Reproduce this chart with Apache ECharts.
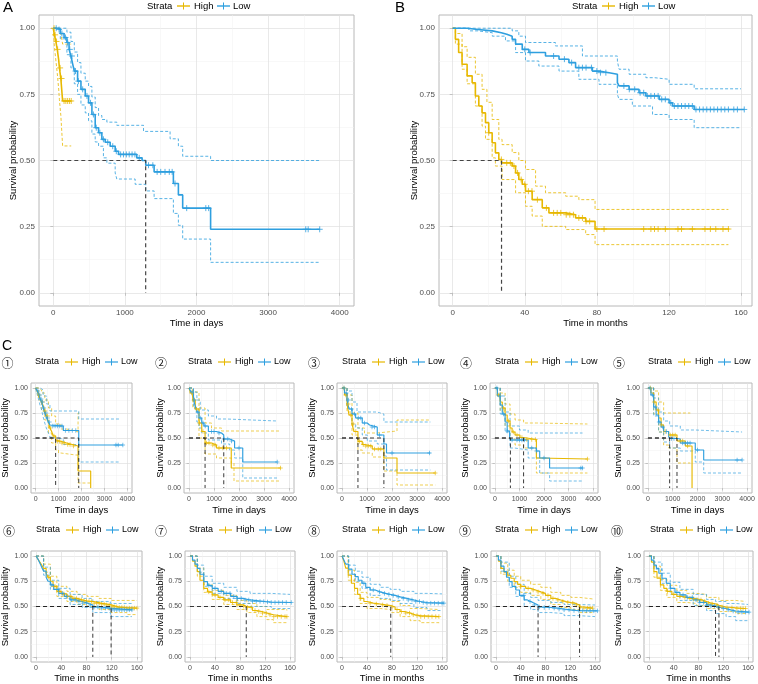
<!DOCTYPE html>
<html><head><meta charset="utf-8">
<script src="https://cdn.jsdelivr.net/npm/echarts@6/dist/echarts.min.js"></script>
<style>html,body{margin:0;padding:0;background:#fff}#c{width:758px;height:684px}</style>
</head><body><div id="c"></div>
<script>
// ---------- tick labels ----------
const daysTicks = [0, 1000, 2000, 3000, 4000];
const daysMinor = [500, 1500, 2500, 3500];
const monthTicks = [0, 40, 80, 120, 160];
const monthMinor = [20, 60, 100, 140];
const probTicks = [0, 0.25, 0.5, 0.75, 1];
const probMinor = [0.125, 0.375, 0.625, 0.875];
const strata = ['High', 'Low'];

// ---------- Panel A (days) ----------
const A_high = [[0,1],[15,0.975],[35,0.95],[55,0.92],[75,0.88],[85,0.85],[105,0.81],[130,0.725],[250,0.725]];
const A_highUp = [[0,1],[85,1],[105,0.98],[130,0.94],[250,0.94]];
const A_highLo = [[0,1],[15,0.93],[35,0.88],[55,0.83],[75,0.77],[85,0.73],[105,0.67],[130,0.555],[250,0.555]];
const A_highCens = [10,25,45,60,95,115,150,175,200,225,250];
const A_low = [[0,1],[60,0.995],[98,0.98],[150,0.965],[190,0.946],[220,0.92],[246,0.895],[270,0.865],[293,0.838],[339,0.80],[386,0.769],[446,0.744],[492,0.718],[539,0.674],[585,0.624],[632,0.605],[678,0.58],[725,0.569],[794,0.554],[864,0.535],[911,0.523],[1166,0.51],[1240,0.50],[1291,0.482],[1408,0.457],[1677,0.413],[1747,0.37],[1807,0.32],[2197,0.24],[3721,0.24]];
const A_lowUp = [[0,1],[150,1],[190,0.985],[246,0.95],[293,0.91],[339,0.87],[386,0.83],[446,0.80],[492,0.78],[539,0.74],[585,0.70],[632,0.67],[678,0.655],[748,0.645],[887,0.633],[1260,0.61],[1631,0.582],[1747,0.554],[1807,0.516],[2197,0.50],[3721,0.50]];
const A_lowLo = [[0,1],[98,0.96],[190,0.90],[246,0.85],[293,0.79],[339,0.75],[386,0.71],[446,0.68],[492,0.65],[539,0.60],[585,0.57],[632,0.554],[700,0.51],[748,0.49],[864,0.453],[887,0.43],[1143,0.41],[1291,0.385],[1408,0.356],[1677,0.30],[1747,0.255],[1807,0.203],[2197,0.115],[3721,0.115]];
const A_lowCens = [40,80,120,170,200,230,260,310,350,410,470,520,560,600,650,700,760,830,880,940,980,1020,1060,1100,1140,1200,1330,1390,1450,1500,1560,1620,1660,1700,1863,2130,2170,3526,3560,3721];
const A_medians = [1290];

// ---------- Panel B (months) ----------
const B_high = [[0,1],[1.5,0.958],[3.3,0.908],[5.2,0.864],[8,0.82],[10.8,0.794],[12.6,0.744],[14.5,0.706],[16.3,0.68],[18.2,0.643],[20,0.605],[21.9,0.567],[23.7,0.529],[25.6,0.504],[27.1,0.491],[33,0.479],[34.9,0.453],[36.7,0.428],[38.6,0.41],[40.4,0.384],[44.1,0.352],[49.7,0.321],[53.4,0.302],[62.7,0.295],[68.2,0.283],[73.8,0.27],[79,0.241],[153.5,0.241]];
const B_highUp = [[0,1],[1.5,0.98],[5.2,0.93],[8,0.89],[12.6,0.826],[16.3,0.769],[19,0.72],[21.9,0.655],[25.6,0.58],[27.4,0.56],[33,0.53],[36.7,0.5],[40.4,0.466],[46,0.403],[51.5,0.378],[62.7,0.365],[70,0.352],[79,0.315],[153,0.315]];
const B_highLo = [[0,1],[1.5,0.94],[5.2,0.845],[8,0.79],[12.6,0.706],[16.3,0.63],[18.2,0.58],[21.9,0.51],[23.7,0.479],[27.4,0.428],[34.9,0.378],[40.4,0.327],[44.1,0.29],[49.7,0.251],[62.7,0.239],[73.8,0.22],[79,0.182],[153,0.182]];
const B_highCens = [20,27,30,32,34,36,38,40,42,44,47,52,56,58,60,63,65,67,70,72,74,76,80,84,106,110,112,114,118,125,127,133,140,143,146,150,153];
const B_low = [[0,1],[8,0.995],[14,0.99],[22,0.983],[27,0.977],[30,0.97],[33,0.958],[34.9,0.94],[38.6,0.92],[42.3,0.908],[51.5,0.895],[59,0.883],[64.5,0.87],[68.2,0.851],[77.5,0.838],[81.2,0.832],[86.8,0.826],[91.4,0.794],[92.3,0.782],[97.9,0.769],[103.4,0.756],[107.2,0.744],[114.6,0.731],[120.1,0.718],[122,0.706],[134,0.693],[161.8,0.693]];
const B_lowUp = [[0,1],[30,1],[33,0.99],[36.7,0.97],[40.4,0.946],[57,0.933],[72,0.895],[91.4,0.876],[92.3,0.845],[97.9,0.826],[107.2,0.813],[112,0.807],[120.1,0.788],[134,0.771],[160,0.771]];
const B_lowLo = [[0,1],[9,0.99],[14,0.983],[22,0.97],[29.3,0.952],[34.9,0.908],[40.4,0.876],[47.8,0.857],[59,0.838],[70,0.807],[81.2,0.788],[91.4,0.75],[92.3,0.731],[99.7,0.706],[110.9,0.674],[120.1,0.655],[134,0.624],[160,0.624]];
const B_lowCens = [40,43,56,62,66,70,72,74,77,80,82,85,95,98,101,104,106,108,110,112,114,116,118,121,123,125,127,129,131,133,135,137,139,141,143,145,147,149,151,153,156,158,161.8];
const B_medians = [27.1];

// ---------- C1 (days) ----------
const C1_high = [[0,1],[60,0.97],[130,0.93],[200,0.89],[262,0.86],[335,0.82],[400,0.77],[480,0.72],[560,0.66],[625,0.60],[700,0.565],[770,0.52],[873,0.48],[916,0.467],[1100,0.45],[1350,0.435],[1600,0.42],[1850,0.17],[2400,0]];
const C1_highUp = [[0,1],[130,0.98],[262,0.95],[400,0.88],[560,0.80],[700,0.72],[873,0.64],[1100,0.59],[1350,0.57],[1750,0.56],[1850,0.75],[1900,0.75]];
const C1_highLo = [[0,1],[130,0.88],[262,0.77],[400,0.68],[560,0.55],[700,0.45],[873,0.38],[1000,0.35],[1100,0.33],[1750,0.33],[1850,0.05],[2400,0.05]];
const C1_highCens = [150,300,420,520,640,800,950,1050,1150,1250,1400,1500,1650];
const C1_low = [[0,1],[80,0.97],[150,0.93],[200,0.89],[262,0.86],[330,0.80],[400,0.75],[480,0.70],[560,0.66],[625,0.63],[700,0.62],[1207,0.575],[1880,0.43],[3800,0.43]];
const C1_lowUp = [[0,1],[200,0.98],[330,0.92],[480,0.84],[625,0.77],[1880,0.69],[3700,0.69]];
const C1_lowLo = [[0,1],[80,0.93],[150,0.87],[200,0.82],[262,0.78],[330,0.71],[400,0.65],[480,0.59],[560,0.55],[625,0.51],[700,0.49],[1207,0.435],[1880,0.26],[3700,0.26]];
const C1_lowCens = [100,180,240,300,360,450,520,600,750,850,950,1050,1150,1300,1450,1600,1750,3500,3600,3800];
const C1_medians = [873, 1880];

// ---------- C2 (days) ----------
const C2_high = [[0,1],[60,0.95],[150,0.88],[250,0.79],[400,0.65],[510,0.565],[643,0.45],[900,0.43],[1100,0.40],[1690,0.20],[3660,0.20]];
const C2_highUp = [[0,1],[150,0.96],[400,0.80],[643,0.65],[900,0.60],[1300,0.57],[3660,0.57]];
const C2_highLo = [[0,1],[150,0.80],[400,0.50],[643,0.34],[1100,0.30],[1690,0.25],[1800,0.07],[3660,0.07]];
const C2_highCens = [100,200,300,420,560,700,800,950,1050,1200,1350,1500,3660];
const C2_low = [[0,1],[80,0.96],[180,0.88],[250,0.82],[315,0.76],[400,0.70],[510,0.65],[600,0.62],[775,0.565],[1100,0.55],[1300,0.53],[1390,0.49],[1626,0.47],[1823,0.40],[2150,0.26],[3530,0.26]];
const C2_lowUp = [[0,1],[180,0.96],[315,0.88],[450,0.78],[775,0.72],[1100,0.69],[1500,0.67],[3530,0.67]];
const C2_lowLo = [[0,1],[180,0.80],[315,0.66],[400,0.60],[510,0.55],[775,0.48],[1300,0.44],[1626,0.38],[1823,0.30],[2150,0.10],[3530,0.10]];
const C2_lowCens = [120,220,350,450,560,650,900,1000,1200,1400,1550,1700,2000,3530];
const C2_medians = [643, 1390];

// ---------- C3 (days) ----------
const C3_high = [[0,1],[100,0.93],[200,0.84],[280,0.73],[400,0.64],[480,0.565],[638,0.467],[810,0.435],[900,0.42],[1210,0.39],[1675,0.30],[2200,0.15],[3730,0.15]];
const C3_highUp = [[0,1],[200,0.93],[400,0.75],[638,0.60],[900,0.55],[1400,0.57],[2200,0.68],[3535,0.68]];
const C3_highLo = [[0,1],[200,0.76],[400,0.53],[638,0.38],[810,0.35],[1210,0.31],[1675,0.17],[2200,0.03],[3730,0.03]];
const C3_highCens = [80,150,250,350,450,550,700,850,950,1050,1150,1300,1450,1550,3730];
const C3_low = [[0,1],[100,0.95],[200,0.88],[280,0.79],[400,0.74],[545,0.70],[810,0.65],[1010,0.63],[1100,0.61],[1410,0.53],[1675,0.44],[1780,0.35],[3535,0.35]];
const C3_lowUp = [[0,1],[200,0.97],[400,0.86],[600,0.76],[1400,0.74],[1675,0.66],[3535,0.66]];
const C3_lowLo = [[0,1],[200,0.80],[400,0.64],[545,0.60],[810,0.53],[1010,0.47],[1410,0.44],[1675,0.32],[1780,0.18],[3535,0.18]];
const C3_lowCens = [80,170,260,380,500,650,750,900,1200,1300,1500,2000,3500];
const C3_medians = [638, 1675];

// ---------- C4 (days) ----------
const C4_high = [[0,1],[100,0.93],[215,0.86],[300,0.80],[415,0.73],[500,0.67],[617,0.60],[700,0.56],[820,0.53],[1020,0.505],[1168,0.485],[1690,0.30],[1800,0.29],[3770,0.29]];
const C4_highUp = [[0,1],[215,0.95],[415,0.84],[617,0.74],[820,0.68],[1168,0.65],[1690,0.64],[3770,0.64]];
const C4_highLo = [[0,1],[215,0.77],[415,0.62],[617,0.49],[820,0.43],[1168,0.40],[1690,0.15],[3770,0.15]];
const C4_highCens = [150,350,550,750,900,1100,1300,1500,1650,3770];
const C4_low = [[0,1],[100,0.92],[215,0.83],[300,0.74],[415,0.66],[500,0.57],[600,0.51],[631,0.48],[1355,0.40],[1690,0.37],[1825,0.30],[2228,0.20],[3570,0.20]];
const C4_lowUp = [[0,1],[215,0.92],[415,0.76],[617,0.62],[1000,0.58],[1355,0.55],[3570,0.55]];
const C4_lowLo = [[0,1],[215,0.74],[415,0.56],[617,0.40],[800,0.38],[1355,0.30],[1825,0.15],[2228,0.07],[3570,0.07]];
const C4_lowCens = [80,200,350,500,700,900,1000,1100,1200,1500,1700,2000,3500,3570];
const C4_medians = [631, 1168];

// ---------- C5 (days) ----------
const C5_high = [[0,1],[120,0.95],[230,0.86],[330,0.78],[430,0.70],[530,0.63],[633,0.565],[835,0.53],[1172,0.47],[1510,0.42],[1780,0]];
const C5_highUp = [[0,1],[230,0.97],[430,0.86],[633,0.75],[1710,0.75]];
const C5_highLo = [[0,1],[230,0.74],[430,0.56],[633,0.43],[835,0.40],[1172,0.25],[1710,0.25]];
const C5_highCens = [100,250,400,550,700,900,1000,1100,1300,1400,1600];
const C5_low = [[0,1],[120,0.93],[230,0.81],[330,0.73],[430,0.66],[530,0.61],[633,0.565],[835,0.516],[875,0.495],[1170,0.49],[1305,0.45],[1910,0.38],[2250,0.28],[3800,0.28]];
const C5_lowUp = [[0,1],[230,0.90],[430,0.76],[633,0.67],[875,0.62],[1305,0.58],[1910,0.56],[3800,0.56]];
const C5_lowLo = [[0,1],[230,0.72],[430,0.56],[633,0.46],[875,0.40],[1305,0.37],[1910,0.26],[2250,0.15],[3800,0.15]];
const C5_lowCens = [80,180,300,450,600,750,950,1050,1400,1500,1600,1700,2000,3600,3800];
const C5_medians = [875, 1172];

// ---------- C6 (months) ----------
const C6_high = [[0,1],[3,0.97],[6,0.94],[9,0.91],[12,0.878],[16,0.83],[19,0.79],[22.7,0.75],[27,0.70],[33,0.65],[40,0.625],[49,0.60],[57,0.58],[65,0.566],[73,0.555],[81,0.55],[91,0.533],[102,0.525],[112,0.516],[119,0.497],[130,0.49],[144,0.484],[160,0.484]];
const C6_highUp = [[0,1],[12,0.92],[22.7,0.80],[33,0.70],[49,0.65],[65,0.62],[81,0.60],[100,0.58],[119,0.56],[160,0.56]];
const C6_highLo = [[0,1],[12,0.84],[22.7,0.70],[33,0.60],[49,0.55],[65,0.52],[81,0.50],[100,0.47],[119,0.44],[144,0.42],[160,0.42]];
const C6_highCens = [20,30,38,44,50,55,60,64,68,72,76,80,84,88,92,96,100,104,108,112,116,120,124,128,132,136,140,144,148,152,156,160];
const C6_low = [[0,1],[3,0.97],[6,0.93],[9,0.89],[12,0.85],[16,0.79],[19,0.75],[22.7,0.714],[28,0.67],[36,0.63],[45,0.60],[54,0.566],[63,0.55],[73,0.533],[82,0.515],[90,0.495],[102,0.484],[118,0.467],[152,0.467]];
const C6_lowUp = [[0,1],[12,0.89],[22.7,0.76],[36,0.68],[54,0.62],[73,0.58],[90,0.55],[118,0.53],[152,0.53]];
const C6_lowLo = [[0,1],[12,0.81],[22.7,0.67],[36,0.58],[54,0.52],[73,0.49],[90,0.44],[118,0.40],[152,0.40]];
const C6_lowCens = [25,35,42,48,56,62,68,74,80,86,92,98,104,110,116,120,124,128,132,136,140,144,148,152];
const C6_medians = [90, 119];

// ---------- C7 (months) ----------
const C7_high = [[0,1],[4,0.95],[8,0.90],[11.7,0.845],[16,0.76],[22,0.68],[28,0.645],[35.5,0.615],[45,0.59],[54,0.566],[65,0.54],[75,0.516],[85,0.503],[90,0.49],[100,0.46],[107,0.45],[115,0.435],[123,0.418],[133.5,0.40],[155,0.40]];
const C7_highUp = [[0,1],[11.7,0.88],[22,0.72],[35.5,0.66],[54,0.61],[75,0.56],[91,0.53],[107,0.50],[123,0.47],[155,0.46]];
const C7_highLo = [[0,1],[11.7,0.80],[22,0.64],[35.5,0.57],[54,0.52],[75,0.47],[91,0.44],[107,0.40],[123,0.37],[133.5,0.34],[155,0.33]];
const C7_highCens = [30,40,48,56,62,68,74,80,86,92,98,104,110,116,122,128,134,140,146,152,155];
const C7_low = [[0,1],[4,0.96],[8,0.92],[11.7,0.878],[16,0.82],[22,0.747],[28,0.71],[35.5,0.68],[45,0.65],[54,0.63],[65,0.60],[75,0.58],[85,0.565],[96,0.55],[120,0.545],[130,0.54],[162,0.54]];
const C7_lowUp = [[0,1],[11.7,0.91],[22,0.80],[35.5,0.73],[54,0.69],[75,0.65],[96,0.63],[130,0.62],[160,0.62]];
const C7_lowLo = [[0,1],[11.7,0.84],[22,0.70],[35.5,0.63],[54,0.58],[75,0.53],[96,0.50],[130,0.48],[160,0.48]];
const C7_lowCens = [30,40,50,58,64,70,76,82,88,94,100,106,112,118,124,130,136,142,148,154,162];
const C7_medians = [90];

// ---------- C8 (months) ----------
const C8_high = [[0,1],[3,0.95],[6,0.88],[10,0.81],[15,0.73],[20,0.68],[25,0.62],[29,0.58],[35,0.55],[40,0.533],[50,0.525],[61,0.516],[70,0.51],[78,0.495],[85,0.47],[93,0.45],[100,0.435],[109,0.418],[117,0.41],[125,0.40],[155,0.40]];
const C8_highUp = [[0,1],[10,0.86],[20,0.74],[29,0.64],[40,0.59],[61,0.57],[78,0.55],[93,0.51],[109,0.48],[125,0.47],[155,0.47]];
const C8_highLo = [[0,1],[10,0.76],[20,0.62],[29,0.53],[40,0.48],[61,0.47],[78,0.44],[93,0.40],[109,0.36],[125,0.34],[155,0.33]];
const C8_highCens = [30,45,55,65,72,80,88,95,102,108,114,120,126,132,138,144,150,155];
const C8_low = [[0,1],[3,0.96],[6,0.92],[10.7,0.87],[16,0.82],[21.3,0.796],[26,0.76],[32,0.73],[38,0.69],[45,0.664],[53,0.645],[61,0.63],[70,0.62],[77,0.61],[85,0.595],[93,0.58],[104,0.565],[115,0.55],[125,0.54],[136,0.533],[163,0.533]];
const C8_lowUp = [[0,1],[10.7,0.91],[21.3,0.85],[32,0.79],[45,0.72],[61,0.69],[77,0.67],[93,0.65],[115,0.63],[136,0.625],[160,0.625]];
const C8_lowLo = [[0,1],[10.7,0.82],[21.3,0.75],[32,0.68],[45,0.61],[61,0.58],[77,0.56],[93,0.53],[115,0.49],[136,0.46],[160,0.455]];
const C8_lowCens = [35,50,60,68,75,82,90,98,106,112,118,124,130,136,142,148,154,160,163];
const C8_medians = [78];

// ---------- C9 (months) ----------
const C9_high = [[0,1],[4,0.95],[8,0.878],[13,0.84],[19,0.81],[24,0.78],[29.5,0.747],[35,0.72],[40,0.70],[48,0.68],[56,0.664],[64,0.645],[72.5,0.63],[80,0.61],[88.6,0.58],[96,0.565],[104.7,0.55],[113,0.54],[121,0.533],[128,0.515],[135,0.495],[142,0.484],[156,0.484]];
const C9_highUp = [[0,1],[8,0.93],[19,0.86],[29.5,0.80],[40,0.76],[56,0.72],[72.5,0.69],[88.6,0.64],[104.7,0.61],[121,0.59],[135,0.575],[156,0.57]];
const C9_highLo = [[0,1],[8,0.82],[19,0.75],[29.5,0.69],[40,0.64],[56,0.61],[72.5,0.57],[88.6,0.52],[104.7,0.49],[121,0.47],[135,0.44],[156,0.42]];
const C9_highCens = [40,52,60,68,76,84,92,100,108,116,124,130,136,142,148,152,156];
const C9_low = [[0,1],[4,0.96],[8,0.90],[13,0.845],[17,0.79],[21.5,0.747],[26,0.70],[32,0.664],[38,0.61],[45.6,0.566],[50,0.55],[56,0.533],[62,0.515],[68,0.495],[78,0.49],[88.6,0.484],[100,0.475],[110,0.467],[120,0.46],[131.5,0.457],[163.8,0.457]];
const C9_lowUp = [[0,1],[8,0.94],[21.5,0.80],[32,0.72],[45.6,0.63],[56,0.59],[68,0.56],[88.6,0.54],[110,0.52],[131.5,0.515],[160,0.51]];
const C9_lowLo = [[0,1],[8,0.85],[21.5,0.69],[32,0.60],[45.6,0.50],[56,0.47],[68,0.44],[88.6,0.43],[110,0.41],[131.5,0.40],[160,0.395]];
const C9_lowCens = [45,55,62,70,78,86,94,102,110,118,126,134,140,146,152,158,163.8];
const C9_medians = [68, 135];

// ---------- C10 (months) ----------
const C10_high = [[0,1],[4,0.94],[8,0.845],[13,0.78],[18.5,0.714],[24,0.68],[29,0.65],[37,0.62],[45,0.60],[53,0.59],[61,0.58],[69,0.575],[77,0.566],[85,0.55],[93,0.533],[101,0.525],[108.6,0.512],[113,0.495],[124.5,0.488],[140,0.48],[156,0.48]];
const C10_highUp = [[0,1],[8,0.90],[18.5,0.77],[29,0.71],[45,0.66],[61,0.63],[77,0.62],[93,0.59],[113,0.56],[140,0.55],[156,0.55]];
const C10_highLo = [[0,1],[8,0.79],[18.5,0.66],[29,0.59],[45,0.54],[61,0.53],[77,0.51],[93,0.48],[113,0.45],[140,0.43],[156,0.43]];
const C10_highCens = [30,40,50,58,66,72,78,84,90,96,102,110,118,126,134,142,148,152,156];
const C10_low = [[0,1],[4,0.96],[8,0.91],[12,0.878],[16,0.83],[21,0.78],[28,0.73],[34.4,0.68],[42,0.64],[50,0.615],[60,0.59],[71.5,0.566],[82,0.54],[93,0.516],[100,0.505],[107.5,0.49],[116,0.48],[124.5,0.467],[132,0.455],[140,0.444],[161.6,0.444]];
const C10_lowUp = [[0,1],[8,0.94],[21,0.83],[34.4,0.74],[50,0.67],[71.5,0.62],[93,0.57],[107.5,0.55],[124.5,0.53],[140,0.52],[160,0.52]];
const C10_lowLo = [[0,1],[8,0.87],[21,0.73],[34.4,0.62],[50,0.56],[71.5,0.51],[93,0.46],[107.5,0.43],[124.5,0.40],[140,0.36],[160,0.36]];
const C10_lowCens = [35,45,55,62,70,76,82,88,94,100,106,112,120,128,136,144,150,156,161.6];
const C10_medians = [107.5, 113];

// ---------- layout ----------
const FONT = "'Liberation Sans', Arial, Helvetica, sans-serif";
const COL = { High: '#E7B800', Low: '#2E9FDF' };
const PLUS = 'path://M5,0L5,10M0,5L10,5';

const panels = [
  {tag:'A', l:39, t:15, r:354, b:306, unit:'days', xr:[-200,4200], big:true, lg:147, ly:6, yt:13, xty:323,
   d:[A_high,A_highUp,A_highLo,A_highCens,A_low,A_lowUp,A_lowLo,A_lowCens,A_medians]},
  {tag:'B', l:439, t:15, r:752, b:306, unit:'months', xr:[-7.6,166.1], big:true, lg:572, ly:6, yt:414, xty:323,
   d:[B_high,B_highUp,B_highLo,B_highCens,B_low,B_lowUp,B_lowLo,B_lowCens,B_medians]},
  {tag:'①', l:31, t:383, r:132, b:493, unit:'days', xr:[-200,4200], lg:35, ly:362, yt:5, xty:510, cx:7.5, cy:363,
   d:[C1_high,C1_highUp,C1_highLo,C1_highCens,C1_low,C1_lowUp,C1_lowLo,C1_lowCens,C1_medians]},
  {tag:'②', l:184, t:383, r:294, b:493, unit:'days', xr:[-200,4200], lg:188, ly:362, yt:160, xty:510, cx:161, cy:363,
   d:[C2_high,C2_highUp,C2_highLo,C2_highCens,C2_low,C2_lowUp,C2_lowLo,C2_lowCens,C2_medians]},
  {tag:'③', l:337, t:383, r:447, b:493, unit:'days', xr:[-200,4200], lg:342, ly:362, yt:312, xty:510, cx:314, cy:363,
   d:[C3_high,C3_highUp,C3_highLo,C3_highCens,C3_low,C3_lowUp,C3_lowLo,C3_lowCens,C3_medians]},
  {tag:'④', l:490, t:383, r:598, b:493, unit:'days', xr:[-200,4200], lg:495, ly:362, yt:465, xty:510, cx:466, cy:363,
   d:[C4_high,C4_highUp,C4_highLo,C4_highCens,C4_low,C4_lowUp,C4_lowLo,C4_lowCens,C4_medians]},
  {tag:'⑤', l:643, t:383, r:752, b:493, unit:'days', xr:[-200,4200], lg:648, ly:362, yt:618, xty:510, cx:619, cy:363,
   d:[C5_high,C5_highUp,C5_highLo,C5_highCens,C5_low,C5_lowUp,C5_lowLo,C5_lowCens,C5_medians]},
  {tag:'⑥', l:31, t:551, r:142, b:662, unit:'months', xr:[-8,168], lg:36, ly:530, yt:5, xty:678, cx:9, cy:531,
   d:[C6_high,C6_highUp,C6_highLo,C6_highCens,C6_low,C6_lowUp,C6_lowLo,C6_lowCens,C6_medians]},
  {tag:'⑦', l:185, t:551, r:295, b:662, unit:'months', xr:[-8,168], lg:189, ly:530, yt:160, xty:678, cx:161, cy:531,
   d:[C7_high,C7_highUp,C7_highLo,C7_highCens,C7_low,C7_lowUp,C7_lowLo,C7_lowCens,C7_medians]},
  {tag:'⑧', l:337, t:551, r:447, b:662, unit:'months', xr:[-8,168], lg:342, ly:530, yt:312, xty:678, cx:314, cy:531,
   d:[C8_high,C8_highUp,C8_highLo,C8_highCens,C8_low,C8_lowUp,C8_lowLo,C8_lowCens,C8_medians]},
  {tag:'⑨', l:491, t:551, r:600, b:662, unit:'months', xr:[-8,168], lg:495, ly:530, yt:465, xty:678, cx:465, cy:531,
   d:[C9_high,C9_highUp,C9_highLo,C9_highCens,C9_low,C9_lowUp,C9_lowLo,C9_lowCens,C9_medians]},
  {tag:'⑩', l:644, t:551, r:753, b:662, unit:'months', xr:[-8,168], lg:650, ly:530, yt:618, xty:678, cx:617, cy:531,
   d:[C10_high,C10_highUp,C10_highLo,C10_highCens,C10_low,C10_lowUp,C10_lowLo,C10_lowCens,C10_medians]}
];

function survAt(curve, t) {
  let v = curve[0][1];
  for (const p of curve) { if (p[0] <= t) v = p[1]; else break; }
  return v;
}
function text(x, y, s, size, align) {
  return {type:'text', x:x, y:y, silent:true, z:100,
    style:{text:s, fontSize:size, fontFamily:FONT, fill:'#000', align:align || 'left', verticalAlign:'middle'}};
}

const grids = [], xAxes = [], yAxes = [], series = [], graphics = [];

panels.forEach((p, i) => {
  const big = !!p.big;
  grids.push({left:p.l, top:p.t, width:p.r - p.l, height:p.b - p.t, show:true,
    borderColor:'#B8B8B8', borderWidth:1, backgroundColor:'#fff', containLabel:false, outerBoundsMode:'none'});
  const xt = p.unit === 'days' ? daysTicks : monthTicks;
  const xm = p.unit === 'days' ? daysMinor : monthMinor;
  const tfs = big ? 8 : 7;
  const labStyle = {fontSize:tfs, color:'#4D4D4D', fontFamily:FONT};
  xAxes.push({type:'value', gridIndex:i, min:p.xr[0], max:p.xr[1],
    axisLine:{show:false}, axisTick:{show:true, length:big?3:2.5, customValues:xt, lineStyle:{color:'#B8B8B8', width:0.8}},
    axisLabel:Object.assign({customValues:xt, margin:big?3:2.5, formatter:v => String(v)}, labStyle),
    splitLine:{show:true, lineStyle:{color:'#E0E0E0', width:0.7}}});
  xAxes.push({type:'value', gridIndex:i, min:p.xr[0], max:p.xr[1],
    axisLine:{show:false}, axisTick:{show:false, customValues:xm}, axisLabel:{show:false},
    splitLine:{show:true, lineStyle:{color:'#F0F0F0', width:0.5}}});
  yAxes.push({type:'value', gridIndex:i, min:-0.05, max:1.05,
    axisLine:{show:false}, axisTick:{show:true, length:big?3:2.5, customValues:probTicks, lineStyle:{color:'#B8B8B8', width:0.8}},
    axisLabel:Object.assign({customValues:probTicks, margin:big?4:3, formatter:v => v.toFixed(2)}, labStyle),
    splitLine:{show:true, lineStyle:{color:'#E0E0E0', width:0.7}}});
  yAxes.push({type:'value', gridIndex:i, min:-0.05, max:1.05,
    axisLine:{show:false}, axisTick:{show:false, customValues:probMinor}, axisLabel:{show:false},
    splitLine:{show:true, lineStyle:{color:'#F0F0F0', width:0.5}}});
  const xi = 2 * i, yi = 2 * i;
  const lw = big ? 1.6 : 1.15, cw = big ? 0.95 : 0.8, cs = big ? 6 : 4.5;
  const base = {xAxisIndex:xi, yAxisIndex:yi, silent:true, animation:false};
  strata.forEach((name, k) => {
    const c = p.d[k*4], up = p.d[k*4+1], lo = p.d[k*4+2], cens = p.d[k*4+3];
    const col = COL[name];
    [up, lo].forEach(ci => series.push(Object.assign({type:'line', name:name, data:ci, step:'end', symbol:'none',
      lineStyle:{color:col, width:cw, type:[3,2], opacity:0.85}, itemStyle:{color:col}, z:2+k}, base)));
    series.push(Object.assign({type:'line', name:name, data:c, step:'end', symbol:'none',
      lineStyle:{color:col, width:lw}, itemStyle:{color:col}, z:4+k}, base));
    series.push(Object.assign({type:'scatter', name:name, data:cens.map(t => [t, survAt(c, t)]),
      symbol:PLUS, symbolSize:cs, itemStyle:{color:'rgba(0,0,0,0)', borderColor:col, borderWidth:big?1:0.8}, z:5+k}, base));
  });
  p.d[8].forEach(m => series.push(Object.assign({type:'line', data:[[0,0.5],[m,0.5],[m,0]], symbol:'none',
    lineStyle:{color:big?'#444':'#222', width:big?1.2:0.9, type:[4,3]}, z:8}, base)));

  // axis titles
  const tsz = 9.5;
  const cxp = (p.l + p.r) / 2, cyp = (p.t + p.b) / 2;
  graphics.push(text(cxp, p.xty, p.unit === 'days' ? 'Time in days' : 'Time in months', tsz, 'center'));
  graphics.push({type:'text', x:p.yt, y:cyp, rotation:Math.PI/2, silent:true, z:100,
    style:{text:'Survival probability', fontSize:tsz, fontFamily:FONT, fill:'#000', align:'center', verticalAlign:'middle'}});
  // legend
  const lx = p.lg, ly = p.ly, lfs = big ? 9.5 : 9;
  graphics.push(text(lx, ly, 'Strata', lfs));
  [[30, 'High', 47], [70, 'Low', 86]].forEach(([off, nm, toff]) => {
    const col = COL[nm];
    graphics.push({type:'line', silent:true, z:100, shape:{x1:lx+off, y1:ly, x2:lx+off+13, y2:ly}, style:{stroke:col, lineWidth:big?1.4:1.2}});
    graphics.push({type:'line', silent:true, z:100, shape:{x1:lx+off+6.5, y1:ly-3.5, x2:lx+off+6.5, y2:ly+3.5}, style:{stroke:col, lineWidth:1}});
    graphics.push(text(lx+toff, ly, nm, lfs));
  });
  if (big) {
    graphics.push(text(p.tag === 'A' ? 3 : 395, 8, p.tag, 15));
  } else {
    graphics.push({type:'text', x:p.cx, y:p.cy, silent:true, z:100,
      style:{text:p.tag, fontSize:12, fontFamily:"'Noto Sans CJK SC', 'DejaVu Sans', sans-serif", fill:'#222', align:'center', verticalAlign:'middle'}});
  }
});
graphics.push(text(2, 346, 'C', 14));

const chart = echarts.init(document.getElementById('c'), null, {renderer:'canvas'});
chart.setOption({
  backgroundColor:'#fff',
  animation:false,
  grid:grids, xAxis:xAxes, yAxis:yAxes, series:series, graphic:graphics,
  tooltip:{show:false}
});
</script></body></html>
